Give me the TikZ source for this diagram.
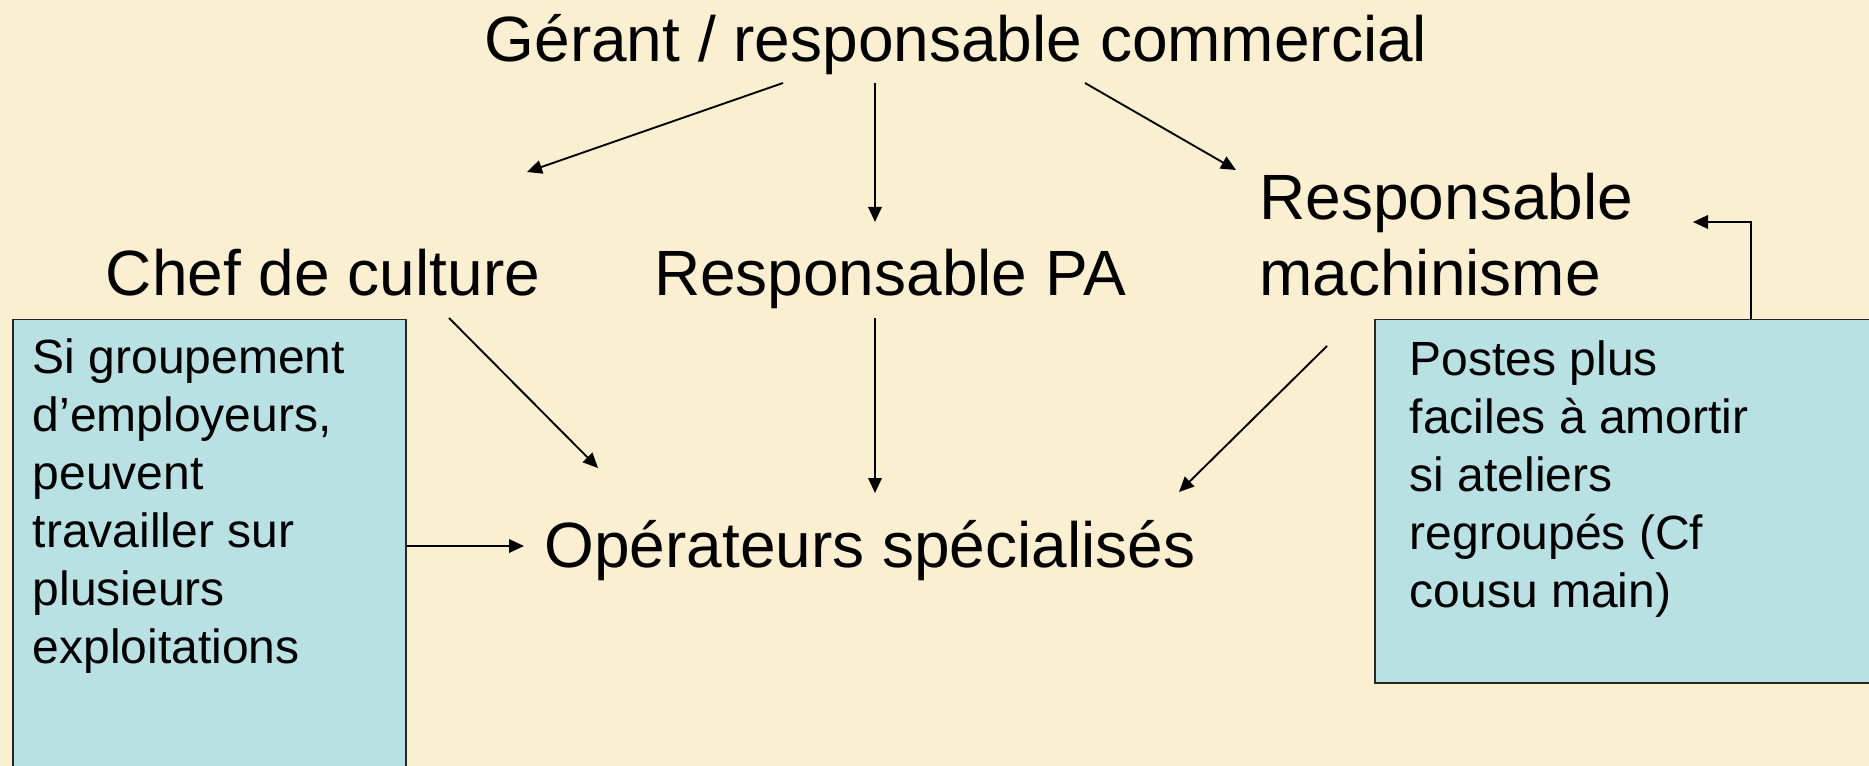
\documentclass[tikz,border=0pt]{standalone}
\usepackage{fontspec}
\setmainfont{Liberation Sans}
\usetikzlibrary{arrows.meta,calc}
\definecolor{bgc}{RGB}{250,239,208}
\definecolor{boxc}{RGB}{185,224,227}
\newdimen\pxu \pxu=0.4pt
\begin{document}
\begin{tikzpicture}[x=0.4pt,y=-0.4pt,
  big/.style={font=\fontsize{25.6pt}{30.4pt}\selectfont, inner sep=0pt, anchor=base},
  arr/.style={-{Triangle[length=6pt,width=5.4pt]}, line width=0.75pt},
  boxstyle/.style={draw=black!85, line width=0.6pt, fill=boxc, inner sep=0pt, anchor=north west}]
\useasboundingbox (0,0) rectangle (1869,766);
\fill[bgc] (0,0) rectangle (1869,766);
\clip (0,0) rectangle (1869,766);

\node[big] (title) at (956,62) {Gérant / responsable commercial};
\node[big] (chef) at (323,296) {Chef de culture};
\node[big] (pa) at (890,296) {Responsable PA};
\node[big, anchor=base west, align=left] (mach) at (1259,296) {Responsable\\machinisme};
\node[big] (op) at (870,567) {Opérateurs spécialisés};

\node[boxstyle] (lbox) at (12,319) {\parbox[t][454\pxu][t]{393\pxu}{\fontsize{19.2pt}{23.2pt}\selectfont\raggedright\leftskip=20\pxu\rule{0pt}{54\pxu}Si groupement\\d’employeurs,\\peuvent\\travailler sur\\plusieurs\\exploitations}};
\node[boxstyle] (rbox) at (1374,319) {\parbox[t][363\pxu][t]{526\pxu}{\fontsize{19.2pt}{23.2pt}\selectfont\raggedright\leftskip=35\pxu\rule{0pt}{56\pxu}Postes plus\\faciles à amortir\\si ateliers\\regroupés (Cf\\cousu main)}};

\draw[arr] ($(title.base)+(-173,21)$) -- ($(chef.base)+(204,-124)$);
\draw[arr] ($(title.base)+(-81,21)$) -- ($(pa.base)+(-15,-74)$);
\draw[arr] ($(title.base)+(129,21)$) -- ($(mach.base west)+(-23,-126)$);
\draw[arr] ($(chef.base)+(126,22)$) -- ($(op.base)+(-272,-99)$);
\draw[arr] ($(pa.base)+(-15,22)$) -- ($(op.base)+(5,-74)$);
\draw[arr] ($(mach.base west)+(68,50)$) -- ($(op.base)+(309,-75)$);
\draw[arr] ($(lbox.north east)+(0,227)$) -- ($(op.base)+(-346,-21)$);
\draw[arr] ($(rbox.north west)+(377,0)$) |- ($(mach.base west)+(434,-74)$);
\end{tikzpicture}
\end{document}
